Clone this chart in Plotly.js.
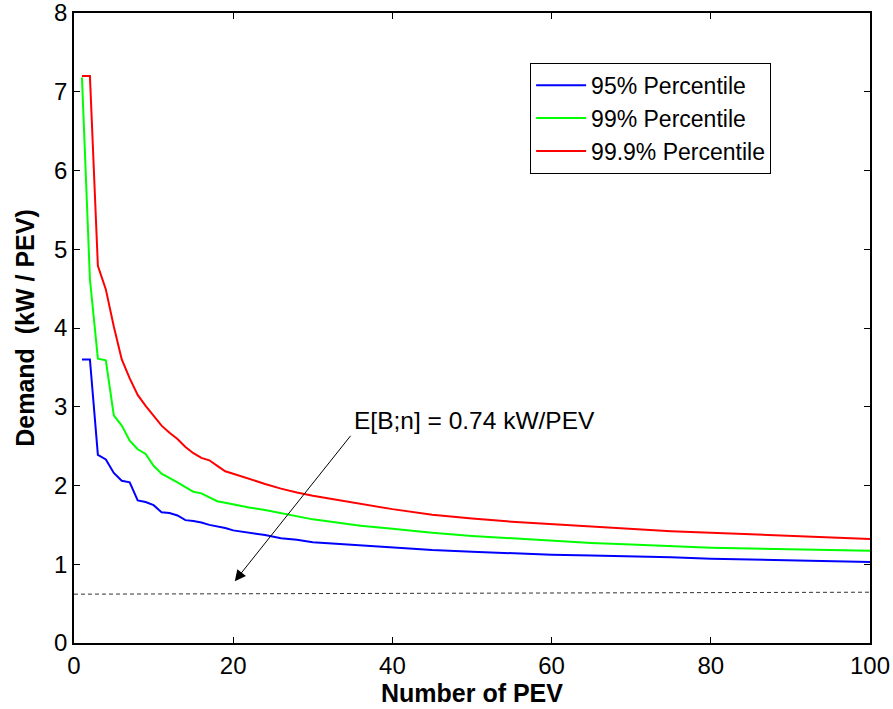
<!DOCTYPE html>
<html>
<head>
<meta charset="utf-8">
<script src="https://cdn.plot.ly/plotly-3.0.1.min.js"></script>
<style>html,body{margin:0;padding:0;background:#fff;}#chart{width:893px;height:709px;}</style>
</head>
<body>
<div id="chart"></div>
<script>
var xDense = [1,2,3,4,5,6,7,8,9,10,11,12,13,14,15,16,17,18,19,20,22,24,26,28,30,33,36,40,45,50,55,60,65,70,75,80,85,90,95,100];
var p95  = [3.6,3.6,2.39,2.33,2.16,2.06,2.04,1.81,1.79,1.75,1.66,1.65,1.62,1.56,1.55,1.53,1.50,1.48,1.46,1.43,1.40,1.37,1.33,1.31,1.28,1.26,1.24,1.21,1.18,1.16,1.14,1.12,1.11,1.10,1.09,1.07,1.06,1.05,1.04,1.03];
var p99  = [7.18,4.62,3.61,3.59,2.89,2.76,2.57,2.46,2.40,2.25,2.15,2.10,2.04,1.98,1.92,1.90,1.85,1.80,1.78,1.76,1.72,1.69,1.65,1.61,1.57,1.53,1.49,1.45,1.40,1.36,1.33,1.30,1.27,1.25,1.23,1.21,1.20,1.19,1.18,1.17];
var p999 = [7.2,7.2,4.79,4.49,4.02,3.60,3.36,3.15,3.01,2.89,2.76,2.67,2.59,2.49,2.41,2.35,2.32,2.25,2.18,2.15,2.08,2.02,1.96,1.91,1.87,1.82,1.77,1.70,1.63,1.58,1.54,1.51,1.48,1.45,1.42,1.40,1.38,1.36,1.34,1.32];
var meanX = [0, 100];
var meanY = [0.62, 0.645];
var seriesNames = ['95% Percentile','99% Percentile','99.9% Percentile'];
var annText = 'E[B;n] = 0.74 kW/PEV';
var xTicks = [0,20,40,60,80,100];
var yTicks = [0,1,2,3,4,5,6,7,8];

var narrow = 'Liberation Sans Narrow, Arial Narrow, Liberation Sans, Arial, sans-serif';
var normal = 'Liberation Sans, Arial, Helvetica, sans-serif';

var traces = [
  {x:xDense, y:p95, name:seriesNames[0], mode:'lines', line:{color:'#0000ff', width:2}},
  {x:xDense, y:p99, name:seriesNames[1], mode:'lines', line:{color:'#00ff00', width:2}},
  {x:xDense, y:p999, name:seriesNames[2], mode:'lines', line:{color:'#ff0000', width:2}},
  {x:meanX, y:meanY, mode:'lines', showlegend:false, line:{color:'#333333', width:1, dash:'4px,3px'}}
];

var layout = {
  width:893, height:709,
  margin:{l:74, r:23, t:13, b:66},
  paper_bgcolor:'#fff', plot_bgcolor:'#fff',
  showlegend:true,
  legend:{x:0.573, y:0.921, xanchor:'left', yanchor:'top', bgcolor:'#fff', bordercolor:'#000', borderwidth:1,
          font:{family:normal, size:23, color:'#000'}, itemwidth:50, tracegroupgap:0},
  xaxis:{range:[0,100], tickvals:xTicks, ticktext:xTicks.map(String), ticks:'inside', ticklen:6, tickcolor:'#000',
         showline:true, linecolor:'#000', linewidth:1.5, mirror:'ticks', showgrid:false, zeroline:false,
         ticklabeloverflow:'allow',
         tickfont:{family:narrow, size:24, color:'#000'},
         title:{text:'<b>Number of PEV</b>', font:{family:narrow, size:25, color:'#000'}, standoff:4}},
  yaxis:{range:[0,8], tickvals:yTicks, ticktext:yTicks.map(String), ticks:'inside', ticklen:6, tickcolor:'#000',
         showline:true, linecolor:'#000', linewidth:1.5, mirror:'ticks', showgrid:false, zeroline:false,
         ticklabeloverflow:'allow',
         tickfont:{family:narrow, size:24, color:'#000'},
         title:{text:'<b>Demand  (kW / PEV)</b>', font:{family:narrow, size:25, color:'#000'}, standoff:12}},
  annotations:[
    {x:20.2, y:0.785, ax:34.9, ay:2.65, xref:'x', yref:'y', axref:'x', ayref:'y', text:'', showarrow:true,
     arrowhead:2, arrowsize:2.2, arrowwidth:1, arrowcolor:'#000'},
    {x:34.9, y:2.82, xref:'x', yref:'y', text:annText, showarrow:false, xanchor:'left', yanchor:'middle',
     font:{family:normal, size:24.5, color:'#000'}}
  ]
};

Plotly.newPlot('chart', traces, layout, {displayModeBar:false});
</script>
</body>
</html>
